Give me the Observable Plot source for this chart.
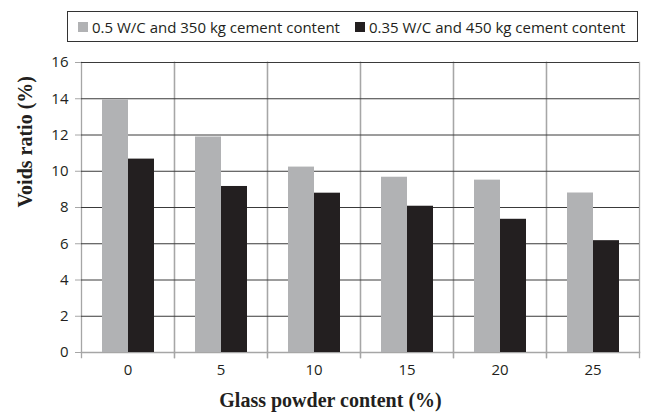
<!DOCTYPE html>
<html>
<head>
<meta charset="utf-8">
<script src="https://cdn.jsdelivr.net/npm/d3@7"></script>
<script src="https://cdn.jsdelivr.net/npm/@observablehq/plot@0.6"></script>
<style>
  html, body { margin: 0; padding: 0; background: #fff; }
  #wrap { position: relative; width: 646px; height: 412px; overflow: hidden; font-family: "Open Sans", sans-serif; color: #231f20; }
  #legend { height: 48px; position: relative; }
  #legend .box { position: absolute; left: 67px; top: 11px; width: 569px; height: 29px; border: 1.5px solid #333; display: flex; align-items: center; font-size: 15px; white-space: nowrap; }
  #legend .item { display: flex; align-items: center; margin-left: 10px; }
  #legend .item + .item { margin-left: 15px; }
  #legend .sw { width: 10px; height: 10px; margin-right: 4px; }
  svg { display: block; }
</style>
</head>
<body>
<div id="wrap">
  <div id="legend"><div class="box"></div></div>
  <div id="chart"></div>
</div>
<script>
const categories = ["0", "5", "10", "15", "20", "25"];
const series = ["0.5 W/C and 350 kg cement content", "0.35 W/C and 450 kg cement content"];
const valuesA = [13.94, 11.89, 10.23, 9.67, 9.51, 8.80];
const valuesB = [10.67, 9.16, 8.79, 8.07, 7.35, 6.17];
const yTicks = [0, 2, 4, 6, 8, 10, 12, 14, 16];
const colors = ["#b1b2b4", "#231f20"];
const xTitle = "Glass powder content (%)";
const yTitle = "Voids ratio (%)";

const data = categories.flatMap((c, i) => [
  {c, s: series[0], v: valuesA[i]},
  {c, s: series[1], v: valuesB[i]}
]);

// legend
const box = document.querySelector("#legend .box");
series.forEach((s, i) => {
  const it = document.createElement("div");
  it.className = "item";
  const sw = document.createElement("span");
  sw.className = "sw";
  sw.style.background = colors[i];
  const tx = document.createElement("span");
  tx.textContent = s;
  it.appendChild(sw); it.appendChild(tx);
  box.appendChild(it);
});

const chart = Plot.plot({
  width: 646,
  height: 364,
  marginTop: 14,
  marginBottom: 60,
  marginLeft: 81,
  marginRight: 7,
  style: {fontFamily: "'Open Sans', sans-serif", fontSize: "15px", color: "#231f20", background: "white"},
  fx: {domain: categories, padding: 0, label: null},
  x: {domain: series, paddingInner: 0, paddingOuter: 0.75, axis: null},
  y: {domain: [0, 16], label: null},
  color: {domain: series, range: colors},
  marks: [
    Plot.frame({anchor: "left", stroke: "#a6a6a6", strokeWidth: 1.3, insetBottom: -5}),
    Plot.frame({anchor: "right", stroke: "#a6a6a6", strokeWidth: 1.3, insetBottom: -5}),
    Plot.frame({anchor: "bottom", stroke: "#a6a6a6", strokeWidth: 1.5}),
    Plot.ruleY(yTicks.filter(t => t > 0), {stroke: "#3a3a3a", strokeWidth: 1}),
    Plot.barY(data, {fx: "c", x: "s", y: "v", fill: "s", inset: 0}),
    Plot.axisY({ticks: yTicks, tickSize: 6, tickPadding: 7, stroke: "#a6a6a6", label: null, fontSize: 15}),
    Plot.axisFx({anchor: "bottom", tickSize: 0, tickPadding: 12, label: null, fontSize: 15}),
    Plot.text([xTitle], {text: d => d, frameAnchor: "bottom", dy: 54, dx: -30, facet: "super",
      fontFamily: "'Liberation Serif', serif", fontWeight: "bold", fontSize: 20, fill: "#231f20"}),
    Plot.text([yTitle], {text: d => d, frameAnchor: "left", rotate: -90, dx: -56, facet: "super",
      fontFamily: "'Liberation Serif', serif", fontWeight: "bold", fontSize: 20, fill: "#231f20"})
  ]
});
document.getElementById("chart").appendChild(chart);
</script>
</body>
</html>
